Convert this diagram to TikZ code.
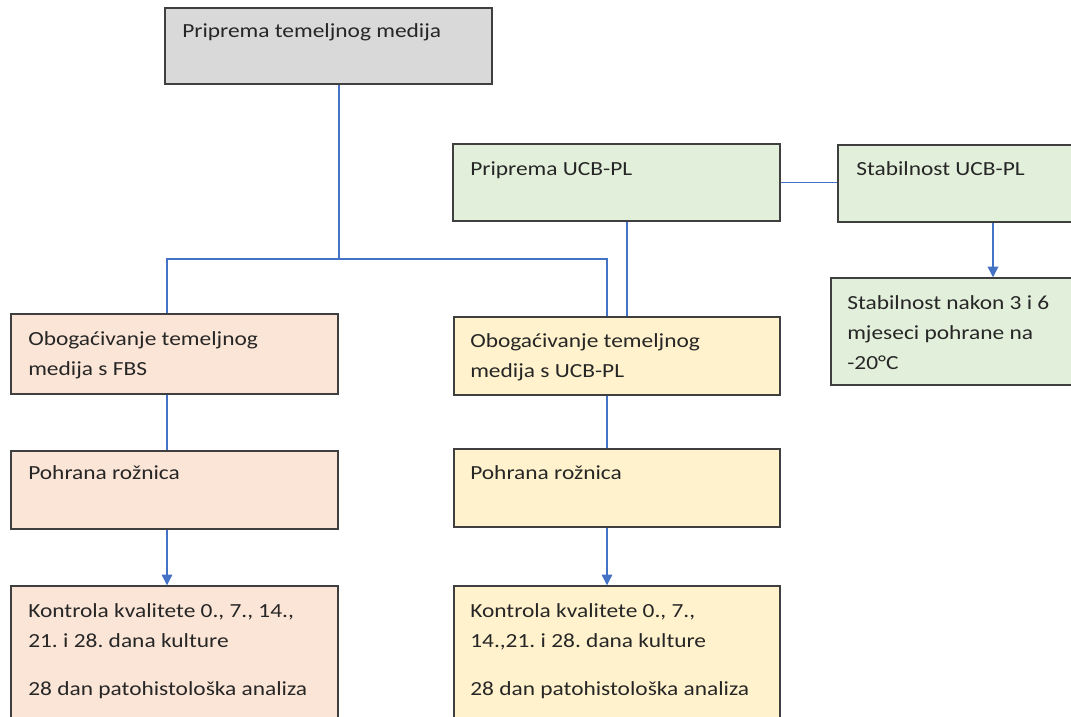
\documentclass[tikz,border=0pt]{standalone}
\usepackage{fontspec}
\setmainfont{Carlito}[FakeStretch=1.17]
\frenchspacing
\usetikzlibrary{fit,arrows.meta,calc}
\definecolor{bordc}{HTML}{3F3F3F}
\definecolor{linec}{HTML}{4472C4}
\definecolor{grayf}{HTML}{D9D9D9}
\definecolor{greenf}{HTML}{E2EFDA}
\definecolor{pinkf}{HTML}{FBE5D6}
\definecolor{yellowf}{HTML}{FFF2CC}
\newcommand\tl[1]{\parbox[t]{300pt}{\frenchspacing #1}}
\tikzset{
  box/.style={draw=bordc, line width=1.1pt, inner sep=0pt, rectangle},
  lbl/.style={anchor=base west, inner sep=0pt, text=black!85, font=\fontsize{15pt}{22.5pt}\selectfont},
  conn/.style={draw=linec, line width=0.9pt},
  arr/.style={conn, -{Triangle[length=8pt,width=8pt]}},
}
\begin{document}
\begin{tikzpicture}[x=0.75pt,y=-0.75pt]
\useasboundingbox (0,0) rectangle (1071,717);
\clip (0,0) rectangle (1071,717);
% boxes
\node[box, fill=grayf, fit={(165,8) (492,84)}] (g) {};
\node[box, fill=greenf, fit={(453,144) (780,221)}] (u1) {};
\node[box, fill=greenf, fit={(838,145) (1090,222)}] (u2) {};
\node[box, fill=greenf, fit={(831,278) (1090,385)}] (s3) {};
\node[box, fill=pinkf, fit={(11,314) (338,394)}] (p1) {};
\node[box, fill=yellowf, fit={(454,317) (780,395)}] (y1) {};
\node[box, fill=pinkf, fit={(11,451) (338,529)}] (p2) {};
\node[box, fill=yellowf, fit={(454,449) (780,527)}] (y2) {};
\node[box, fill=pinkf, fit={(11,586) (338,740)}] (p3) {};
\node[box, fill=yellowf, fit={(454,586) (780,740)}] (y3) {};
% texts
\node[lbl] (tg) at (182,38) {\tl{Priprema temeljnog medija}};
\node[lbl] (tu1) at (470,175) {\tl{Priprema UCB-PL}};
\node[lbl] (tu2) at (856,175) {\tl{Stabilnost UCB-PL}};
\node[lbl] (ts3) at (847,309) {\tl{Stabilnost nakon 3 i 6\\mjeseci pohrane na\\-20°C}};
\node[lbl] (tp1) at (28,345) {\tl{Obogaćivanje temeljnog\\medija s FBS}};
\node[lbl] (ty1) at (470,347) {\tl{Obogaćivanje temeljnog\\medija s UCB-PL}};
\node[lbl] (tp2) at (28,479) {\tl{Pohrana rožnica}};
\node[lbl] (ty2) at (470,479) {\tl{Pohrana rožnica}};
\node[lbl] (tp3) at (28,617) {\tl{Kontrola kvalitete 0., 7., 14.,\\21. i 28. dana kulture\\[13.5pt]28 dan patohistološka analiza}};
\node[lbl] (ty3) at (470,617) {\tl{Kontrola kvalitete 0., 7.,\\14.,21. i 28. dana kulture\\[13.5pt]28 dan patohistološka analiza}};
% helper coordinates
\coordinate (j) at (339,259);
\coordinate (xa) at (167,0);
\coordinate (xb) at (607,0);
\coordinate (xc) at (627,0);
\coordinate (xd) at (993,0);
% connectors
\draw[conn] (g.south -| j) -- (j);
\draw[conn] (p1.north -| xa) -- (xa |- j) -- (xb |- j) -- (y1.north -| xb);
\draw[conn] (u1.south -| xc) -- (y1.north -| xc);
\draw[conn] (u1.east) -- (u2.west |- u1.east);
\draw[arr] (u2.south -| xd) -- (s3.north -| xd);
\draw[conn] (p1.south -| xa) -- (p2.north -| xa);
\draw[conn] (y1.south -| xb) -- (y2.north -| xb);
\draw[arr] (p2.south -| xa) -- (p3.north -| xa);
\draw[arr] (y2.south -| xb) -- (y3.north -| xb);
\end{tikzpicture}
\end{document}
